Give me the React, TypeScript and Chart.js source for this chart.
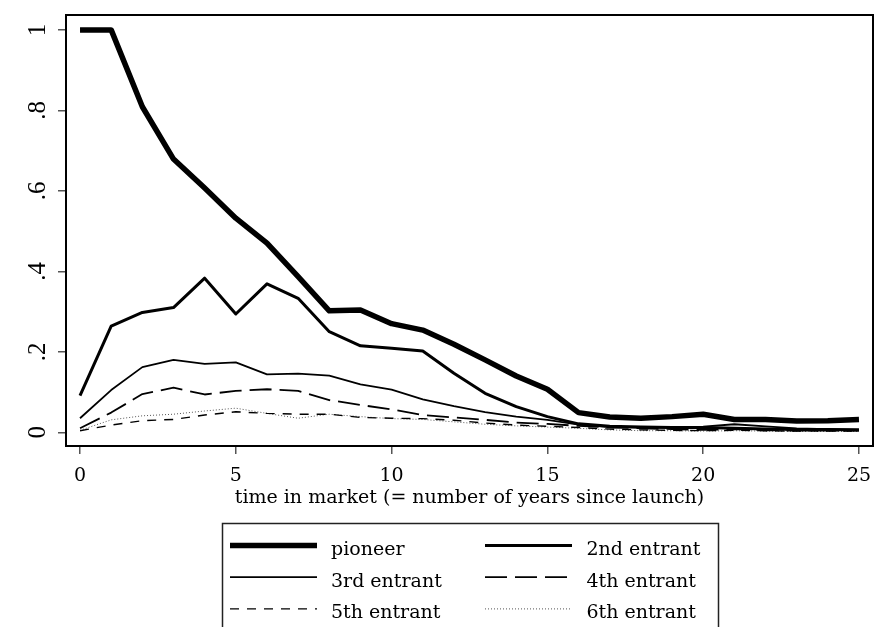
import React, { useEffect, useRef } from "react";
import { Chart, registerables } from "chart.js";

Chart.register(...registerables);

const years = [0, 1, 2, 3, 4, 5, 6, 7, 8, 9, 10, 11, 12, 13, 14, 15, 16, 17, 18, 19, 20, 21, 22, 23, 24, 25];

const pioneer = [1.0, 1.0, 0.809, 0.679, 0.607, 0.532, 0.470, 0.387, 0.302, 0.304, 0.270, 0.254, 0.219, 0.180, 0.140, 0.107, 0.049, 0.038, 0.035, 0.039, 0.045, 0.032, 0.032, 0.028, 0.029, 0.032];
const second = [0.091, 0.264, 0.298, 0.310, 0.383, 0.294, 0.369, 0.333, 0.250, 0.215, 0.209, 0.202, 0.147, 0.097, 0.064, 0.039, 0.021, 0.015, 0.013, 0.012, 0.012, 0.010, 0.008, 0.007, 0.007, 0.006];
const third = [0.035, 0.105, 0.162, 0.180, 0.170, 0.174, 0.144, 0.146, 0.141, 0.119, 0.106, 0.082, 0.065, 0.050, 0.039, 0.031, 0.019, 0.013, 0.012, 0.012, 0.014, 0.020, 0.015, 0.010, 0.008, 0.007];
const fourth = [0.010, 0.049, 0.095, 0.111, 0.094, 0.103, 0.107, 0.103, 0.080, 0.068, 0.057, 0.043, 0.037, 0.031, 0.024, 0.021, 0.016, 0.012, 0.010, 0.008, 0.006, 0.008, 0.005, 0.004, 0.004, 0.004];
const fifth = [0.004, 0.018, 0.029, 0.032, 0.043, 0.051, 0.047, 0.045, 0.045, 0.037, 0.035, 0.034, 0.030, 0.023, 0.018, 0.015, 0.012, 0.008, 0.006, 0.005, 0.004, 0.005, 0.004, 0.003, 0.003, 0.003];
const sixth = [0.005, 0.031, 0.041, 0.045, 0.053, 0.060, 0.047, 0.035, 0.045, 0.039, 0.034, 0.032, 0.026, 0.020, 0.016, 0.013, 0.010, 0.006, 0.004, 0.004, 0.003, 0.004, 0.003, 0.002, 0.002, 0.002];

const seriesLabels = ["pioneer", "2nd entrant", "3rd entrant", "4th entrant", "5th entrant", "6th entrant"];

const xTicks = [0, 5, 10, 15, 20, 25];
const yTicks = [0, 0.2, 0.4, 0.6, 0.8, 1];
const yTickLabels = ["0", ".2", ".4", ".6", ".8", "1"];

const xTitle = "time in market (= number of years since launch)";

const SERIF = "'DejaVu Serif', serif";

const framePlugin = {
  id: "frame",
  afterDatasetsDraw(chart: any) {
    const { ctx, chartArea } = chart;
    ctx.save();
    ctx.strokeStyle = "#000";
    ctx.lineWidth = 2;
    ctx.strokeRect(chartArea.left, chartArea.top, chartArea.right - chartArea.left, chartArea.bottom - chartArea.top);
    ctx.restore();
  },
};

const legendPlugin = {
  id: "boxLegend",
  afterDraw(chart: any) {
    const { ctx } = chart;
    const ds = chart.data.datasets;
    ctx.save();
    ctx.strokeStyle = "#222";
    ctx.lineWidth = 1.5;
    ctx.strokeRect(222.5, 523.5, 496, 200);
    ctx.font = "19px " + SERIF;
    ctx.textBaseline = "alphabetic";
    ctx.textAlign = "left";
    const cols = [
      { lx0: 230, lx1: 317, tx: 331 },
      { lx0: 485, lx1: 572, tx: 586.5 },
    ];
    ds.forEach((d: any, i: number) => {
      const col = cols[i % 2];
      const row = Math.floor(i / 2);
      const base = 555 + row * 31.7;
      const ly = base - 9.5;
      ctx.save();
      ctx.strokeStyle = d.borderColor;
      ctx.lineWidth = d.borderWidth;
      ctx.setLineDash(d.borderDash || []);
      ctx.beginPath();
      ctx.moveTo(col.lx0, ly);
      ctx.lineTo(col.lx1, ly);
      ctx.stroke();
      ctx.restore();
      ctx.fillStyle = "#000";
      ctx.fillText(d.label, col.tx, base);
    });
    ctx.restore();
  },
};

const zeroPad = (scale: any) => {
  scale.paddingLeft = 0;
  scale.paddingRight = 0;
  scale.paddingTop = 0;
  scale.paddingBottom = 0;
};

export default function App() {
  const canvasRef = useRef<HTMLCanvasElement | null>(null);

  useEffect(() => {
    const canvas = canvasRef.current;
    if (!canvas) return;
    const mk = (vals: number[]) => years.map((x, i) => ({ x, y: vals[i] }));
    const styles = [
      { data: pioneer, w: 5.5, dash: [], color: "#000" },
      { data: second, w: 3, dash: [], color: "#000" },
      { data: third, w: 1.8, dash: [], color: "#000" },
      { data: fourth, w: 1.8, dash: [22, 8], color: "#000" },
      { data: fifth, w: 1.4, dash: [9, 8], color: "#000" },
      { data: sixth, w: 1, dash: [1, 2], color: "#555" },
    ];
    const chart = new Chart(canvas, {
      type: "line",
      data: {
        datasets: styles.map((s, i) => ({
          label: seriesLabels[i],
          data: mk(s.data),
          borderColor: s.color,
          backgroundColor: s.color,
          borderWidth: s.w,
          borderDash: s.dash,
          borderJoinStyle: "round",
          pointRadius: 0,
          tension: 0,
          fill: false,
        })),
      },
      options: {
        animation: false,
        responsive: false,
        devicePixelRatio: 1,
        layout: { padding: { top: 15, right: 1, left: 0, bottom: 0 } },
        plugins: {
          legend: { display: false },
          tooltip: { enabled: false },
        },
        scales: {
          x: {
            type: "linear",
            min: -0.45,
            max: 25.45,
            afterBuildTicks: (scale: any) => {
              scale.ticks = xTicks.map((v) => ({ value: v }));
            },
            afterFit: (scale: any) => {
              scale.height = 181;
              zeroPad(scale);
            },
            grid: { display: true, drawOnChartArea: false, drawTicks: true, tickLength: 8, color: "#555", lineWidth: 1.5 },
            border: { display: false },
            ticks: {
              font: { family: SERIF, size: 19 },
              color: "#000",
              padding: 11,
              maxRotation: 0,
              minRotation: 0,
              callback: (v: any) => String(v),
            },
            title: {
              display: true,
              text: xTitle,
              font: { family: SERIF, size: 19 },
              color: "#000",
              padding: { top: 0, bottom: 118 },
            },
          },
          y: {
            type: "linear",
            min: -0.034,
            max: 1.037,
            afterBuildTicks: (scale: any) => {
              scale.ticks = yTicks.map((v) => ({ value: v }));
            },
            afterFit: (scale: any) => {
              scale.width = 66;
              zeroPad(scale);
            },
            grid: { display: true, drawOnChartArea: false, drawTicks: true, tickLength: 8, color: "#555", lineWidth: 1.5 },
            border: { display: false },
            ticks: {
              font: { family: "'Liberation Serif', serif", size: 25 },
              color: "#000",
              padding: 10.6,
              minRotation: 90,
              maxRotation: 90,
              crossAlign: "center",
              callback: (v: any) => {
                const idx = yTicks.findIndex((t) => Math.abs(t - v) < 1e-9);
                return idx >= 0 ? yTickLabels[idx] : "";
              },
            },
          },
        },
      },
      plugins: [framePlugin, legendPlugin],
    } as any);
    return () => chart.destroy();
  }, []);

  return (
    <div style={{ position: "absolute", left: 0, top: 0, width: 874, height: 627, background: "#fff" }}>
      <canvas ref={canvasRef} width={874} height={627} style={{ display: "block" }} />
    </div>
  );
}
